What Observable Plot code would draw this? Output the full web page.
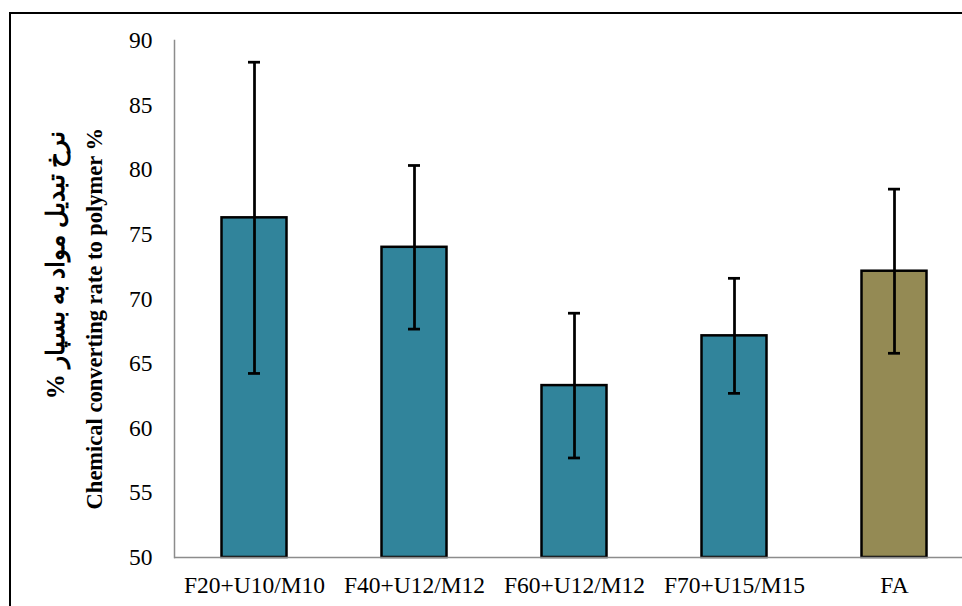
<!DOCTYPE html>
<html>
<head>
<meta charset="utf-8">
<script src="https://cdn.jsdelivr.net/npm/d3@7"></script>
<script src="https://cdn.jsdelivr.net/npm/@observablehq/plot@0.6"></script>
<style>
  html, body { margin: 0; padding: 0; background: #fff; width: 962px; height: 606px; overflow: hidden; }
  #wrap { position: relative; width: 962px; height: 606px; }
  #border { position: absolute; left: 9px; top: 12px; width: 980px; height: 700px;
            border-top: 2px solid #000; border-left: 2px solid #000; pointer-events: none; }
</style>
</head>
<body>
<div id="wrap"><div id="chart"></div><div id="border"></div></div>
<script>
const categories = ["F20+U10/M10", "F40+U12/M12", "F60+U12/M12", "F70+U15/M15", "FA"];
const values = [76.28, 74.0, 63.3, 67.15, 72.15];
const errors = [12.04, 6.33, 5.6, 4.45, 6.35];
const colors = ["#31849b", "#31849b", "#31849b", "#31849b", "#948a54"];
const yTicks = [50, 55, 60, 65, 70, 75, 80, 85, 90];
const titleEn = "Chemical converting rate to polymer %";
const titleFa = "% نرخ تبدیل مواد به بسپار";

const data = categories.map((c, i) => ({
  category: c, value: values[i], lo: values[i] - errors[i], hi: values[i] + errors[i], color: colors[i]
}));

const serif = "'Liberation Serif', 'Times New Roman', Times, serif";

const plot = Plot.plot({
  width: 962,
  height: 606,
  marginLeft: 174,
  marginRight: -12,
  marginTop: 40,
  marginBottom: 49,
  style: { fontFamily: serif, fontSize: "23.5px", color: "#000", background: "transparent" },
  x: { domain: categories, padding: 0 },
  y: { domain: [50, 90] },
  color: { type: "identity" },
  marks: [
    Plot.barY(data, { x: "category", y1: 50, y2: "value", fill: "color", stroke: "#000", strokeWidth: 2.5, insetLeft: 47.5, insetRight: 47.5 }),
    Plot.ruleX(data, { x: "category", y1: "lo", y2: "hi", stroke: "#000", strokeWidth: 2.75 }),
    Plot.tickY(data, { x: "category", y: "hi", stroke: "#000", strokeWidth: 2.75, insetLeft: 74, insetRight: 74 }),
    Plot.tickY(data, { x: "category", y: "lo", stroke: "#000", strokeWidth: 2.75, insetLeft: 74, insetRight: 74 }),
    Plot.ruleY([50], { stroke: "#8c8c8c", strokeWidth: 1.5 }),
    Plot.frame({ anchor: "left", stroke: "#8c8c8c", strokeWidth: 1.5 }),
    Plot.axisY({ ticks: yTicks, tickSize: 0, tickPadding: 22, label: null, fill: "#000" }),
    Plot.axisX({ tickSize: 0, tickPadding: 19, label: null, fill: "#000" })
  ]
});

document.getElementById("chart").appendChild(plot);

const svg = d3.select(plot);
const g = svg.append("g")
  .attr("font-family", serif)
  .attr("font-weight", "bold")
  .attr("fill", "#000");
g.append("text")
  .attr("font-size", 22.5)
  .attr("transform", "translate(102,128) rotate(-90)")
  .attr("text-anchor", "end")
  .text(titleEn);
g.append("text")
  .attr("font-size", 25)
  .attr("transform", "translate(64,131) rotate(-90)")
  .attr("text-anchor", "end")
  .text(titleFa);
</script>
</body>
</html>
